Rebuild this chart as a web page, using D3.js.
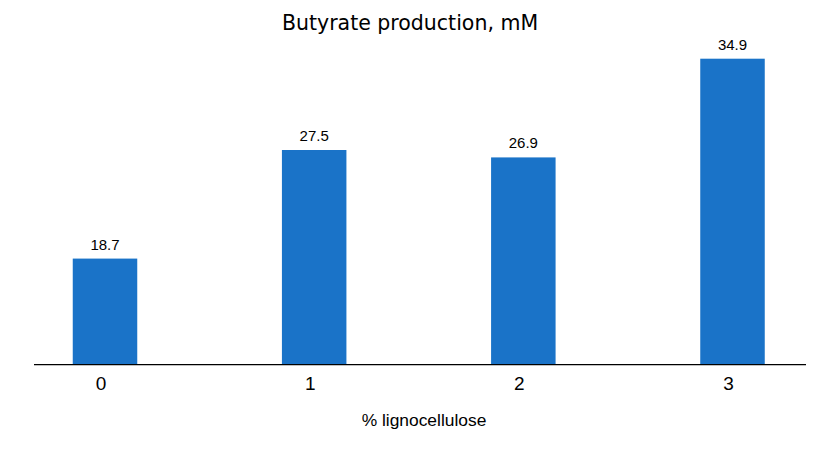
<!DOCTYPE html>
<html>
<head>
<meta charset="utf-8">
<script src="https://cdn.jsdelivr.net/npm/d3@7"></script>
<style>
  body { margin: 0; background: #fff; }
  svg { display: block; }
</style>
</head>
<body>
<div id="chart"></div>
<script>
// data
const categories = ["0", "1", "2", "3"]
const butyrate = [18.7, 27.5, 26.9, 34.9]

const width = 820
const height = 462

const svg = d3.select("#chart")
  .append("svg")
    .attr("width", width)
    .attr("height", height)

// scales (value axis does not start at zero in the original)
const x = d3.scalePoint()
    .domain(categories)
    .range([105, 732.5])

const y = d3.scaleLinear()
    .domain([10.1, 34.9])
    .range([364.7, 58.7])

const barWidth = 64.5

// bars
svg.append("g")
  .selectAll("rect")
  .data(butyrate)
  .join("rect")
    .attr("x", (d, i) => x(categories[i]) - barWidth / 2)
    .attr("y", d => y(d))
    .attr("width", barWidth)
    .attr("height", d => y.range()[0] - y(d))
    .attr("fill", "#1a73c8")

// value labels
svg.append("g")
  .selectAll("text")
  .data(butyrate)
  .join("text")
    .attr("x", (d, i) => x(categories[i]))
    .attr("y", d => y(d) - 9)
    .attr("text-anchor", "middle")
    .attr("font-family", "Liberation Sans, Arial, sans-serif")
    .attr("font-size", 15)
    .attr("fill", "#000")
    .text(d => d.toFixed(1))

// x axis line + tick labels
svg.append("line")
    .attr("x1", 34).attr("x2", 806)
    .attr("y1", y.range()[0]).attr("y2", y.range()[0])
    .attr("stroke", "#000")
    .attr("stroke-width", 1.3)

svg.append("g")
  .selectAll("text")
  .data(categories)
  .join("text")
    .attr("x", d => x(d) - 4)
    .attr("y", 389.5)
    .attr("text-anchor", "middle")
    .attr("font-family", "Liberation Sans, Arial, sans-serif")
    .attr("font-size", 19)
    .attr("fill", "#000")
    .text(d => d)

// axis title
svg.append("text")
    .attr("x", 424)
    .attr("y", 426)
    .attr("text-anchor", "middle")
    .attr("font-family", "Liberation Sans, Arial, sans-serif")
    .attr("font-size", 17.4)
    .attr("fill", "#000")
    .text("% lignocellulose")

// chart title
svg.append("text")
    .attr("x", 410)
    .attr("y", 30)
    .attr("text-anchor", "middle")
    .attr("font-family", "DejaVu Sans, Verdana, sans-serif")
    .attr("font-size", 20.5)
    .attr("fill", "#000")
    .text("Butyrate production, mM")
</script>
</body>
</html>
